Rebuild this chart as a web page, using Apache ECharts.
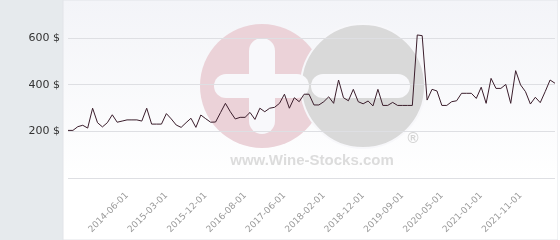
<!DOCTYPE html>
<html>
<head>
<meta charset="utf-8">
<script src="https://cdn.jsdelivr.net/npm/echarts@6/dist/echarts.min.js"></script>
<style>
html,body{margin:0;padding:0;background:#fff;}
#c{width:560px;height:240px;}
</style>
</head>
<body>
<div id="c"></div>
<script>
var categories = [
  '2013-06-01','2013-07-01','2013-08-01','2013-09-01','2013-10-01','2013-11-01','2013-12-01','2014-01-01','2014-02-01','2014-03-01','2014-04-01','2014-05-01',
  '2014-06-01','2014-07-01','2014-08-01','2014-09-01','2014-10-01','2014-11-01','2014-12-01','2015-01-01',
  '2015-03-01','2015-04-01','2015-05-01','2015-06-01','2015-07-01','2015-08-01','2015-09-01','2015-10-01',
  '2015-12-01','2016-01-01','2016-02-01','2016-03-01','2016-04-01','2016-05-01','2016-06-01','2016-07-01',
  '2016-08-01','2016-09-01','2016-10-01','2016-11-01','2017-01-01','2017-02-01','2017-03-01','2017-05-01',
  '2017-06-01','2017-07-01','2017-08-01','2017-09-01','2017-10-01','2017-11-01','2017-12-01','2018-01-01',
  '2018-02-01','2018-03-01','2018-04-01','2018-05-01','2018-06-01','2018-07-01','2018-09-01','2018-10-01',
  '2018-12-01','2019-01-01','2019-02-01','2019-03-01','2019-04-01','2019-05-01','2019-06-01','2019-08-01',
  '2019-09-01','2019-10-01','2019-11-01','2019-12-01','2020-01-01','2020-02-01','2020-03-01','2020-04-01',
  '2020-05-01','2020-06-01','2020-07-01','2020-08-01','2020-09-01','2020-10-01','2020-11-01','2020-12-01',
  '2021-01-01','2021-02-01','2021-03-01','2021-04-01','2021-05-01','2021-06-01','2021-07-01','2021-09-01',
  '2021-11-01','2021-12-01','2022-01-01','2022-02-01','2022-03-01','2022-04-01','2022-05-01','2022-06-01'
];
var prices = [
  204,204,220,226,214,299,237,219,237,271,239,244,
  249,249,249,244,299,231,231,231,
  276,253,227,217,237,256,217,270,
  254,239,240,280,320,284,253,260,
  260,281,251,299,284,299,303,320,
  359,299,344,327,359,359,313,313,
  327,348,320,420,344,331,380,327,
  318,330,309,380,311,311,324,311,
  311,311,311,613,610,334,380,373,
  311,311,327,331,363,363,363,341,
  389,320,427,384,384,401,320,460,
  399,370,317,346,323,370,420,406
];
var yTicks = [0, 200, 400, 600];
var currency = ' $';
var watermarkText = 'www.Wine-Stocks.com';

var chart = echarts.init(document.getElementById('c'), null, {renderer: 'canvas'});
chart.setOption({
  animation: false,
  backgroundColor: '#e6eaed',
  grid: {left: 68, right: 5, top: 38, bottom: 62, containLabel: false},
  graphic: [
    {type: 'rect', z: -20, silent: true, shape: {x: 63, y: 0, width: 495, height: 240},
      style: {fill: new echarts.graphic.LinearGradient(0, 0, 0, 1, [
        {offset: 0, color: '#f3f4f8'}, {offset: 0.75, color: '#ffffff'}, {offset: 1, color: '#ffffff'}]),
        stroke: '#e2e4e8', lineWidth: 1}},
    {type: 'rect', z: -20, silent: true, shape: {x: 558, y: 0, width: 2, height: 240}, style: {fill: '#ffffff'}},
    {type: 'circle', z: -10, silent: true, shape: {cx: 262, cy: 86, r: 62}, style: {fill: '#ebd2d8'}},
    {type: 'circle', z: -9, silent: true, shape: {cx: 363, cy: 86, r: 62}, style: {fill: '#d9d9d9', stroke: '#f7f7fa', lineWidth: 2}},
    {type: 'rect', z: -8, silent: true, shape: {x: 249, y: 38, width: 26, height: 96, r: 13}, style: {fill: '#f8f8fb'}},
    {type: 'rect', z: -8, silent: true, shape: {x: 214, y: 74, width: 95, height: 24, r: 12}, style: {fill: '#f8f8fb'}},
    {type: 'rect', z: -8, silent: true, shape: {x: 311, y: 74, width: 99, height: 24, r: 12}, style: {fill: '#f8f8fb'}},
    {type: 'text', z: -8, silent: true, x: 312, y: 161,
      style: {text: watermarkText, fill: '#dcdcdc', font: 'bold 15px "Liberation Sans", Arial, sans-serif', textAlign: 'center', textVerticalAlign: 'middle'}},
    {type: 'text', z: -8, silent: true, x: 413, y: 139,
      style: {text: '\u00AE', fill: '#d4d4d4', font: 'bold 15px "Liberation Sans", Arial, sans-serif', textAlign: 'center', textVerticalAlign: 'middle'}}
  ],
  xAxis: {
    type: 'category',
    data: categories,
    boundaryGap: false,
    axisLine: {show: false},
    axisTick: {show: false},
    splitLine: {show: false},
    axisLabel: {
      rotate: 45,
      margin: 16,
      color: '#9a9a9a',
      fontSize: 9,
      fontFamily: 'DejaVu Sans, sans-serif',
      interval: function (idx) { return idx >= 12 && (idx - 12) % 8 === 0; }
    }
  },
  yAxis: {
    type: 'value',
    min: yTicks[0],
    max: yTicks[yTicks.length - 1],
    interval: 200,
    axisLine: {show: false},
    axisTick: {show: false},
    splitLine: {lineStyle: {color: '#dedfe3', width: 1}},
    axisLabel: {
      margin: 8,
      color: '#333333',
      fontSize: 11,
      fontFamily: 'DejaVu Sans, sans-serif',
      formatter: function (v) { return v === 0 ? '' : v + currency; }
    }
  },
  series: [{
    type: 'line',
    data: prices,
    clip: false,
    showSymbol: false,
    symbol: 'none',
    z: 5,
    lineStyle: {color: '#3b1e2c', width: 1}
  }]
});
</script>
</body>
</html>
